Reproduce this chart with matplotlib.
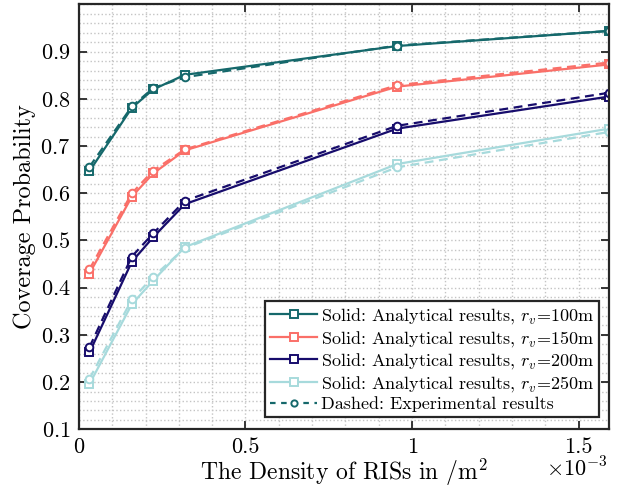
import matplotlib
matplotlib.use("Agg")
import matplotlib.pyplot as plt
from matplotlib.ticker import FuncFormatter, MultipleLocator
from matplotlib.lines import Line2D

plt.rcParams["font.family"] = "serif"
plt.rcParams["font.serif"] = ["cmr10"]
plt.rcParams["mathtext.fontset"] = "cm"
plt.rcParams["axes.formatter.use_mathtext"] = True

# RIS density (per m^2)
density = [3.18e-5, 1.59e-4, 2.23e-4, 3.18e-4, 9.55e-4, 1.5915e-3]

radii = ["100", "150", "200", "250"]
colors = ["#15686B", "#FA6F68", "#170C6C", "#A7DADC"]

# solid: analytical, dashed: experimental
analytical = [
    [0.647, 0.781, 0.820, 0.851, 0.912, 0.944],
    [0.430, 0.593, 0.642, 0.691, 0.826, 0.873],
    [0.263, 0.455, 0.507, 0.577, 0.737, 0.805],
    [0.196, 0.365, 0.415, 0.486, 0.662, 0.737],
]
experimental = [
    [0.656, 0.784, 0.823, 0.846, 0.913, 0.944],
    [0.439, 0.600, 0.648, 0.693, 0.829, 0.877],
    [0.274, 0.466, 0.515, 0.584, 0.743, 0.813],
    [0.207, 0.375, 0.423, 0.484, 0.655, 0.730],
]

fig = plt.figure(figsize=(6.21, 4.93), dpi=100)
ax = fig.add_axes([0.127, 0.1292, 0.854, 0.8617])

handles = []
for r, c, ya, ye in zip(radii, colors, analytical, experimental):
    h, = ax.plot(density, ya, "-", color=c, lw=1.6, marker="s", ms=5.5,
                 mfc="white", mec=c, mew=1.4,
                 label=r"Solid: Analytical results, $r_v$=" + r + "m")
    ax.plot(density, ye, "--", color=c, lw=1.6, dashes=(4, 2.5), marker="o", ms=5.5,
            mfc="white", mec=c, mew=1.4)
    handles.append(h)

handles.append(Line2D([], [], color=colors[0], lw=1.6, ls="--", dashes=(2.5, 2.5),
                      marker="o", ms=4.5, mfc="white", mec=colors[0], mew=1.4,
                      label="Dashed: Experimental results"))

ax.set_xlim(0, 1.5915e-3)
ax.set_ylim(0.1, 1.0)
ax.set_xticks([0, 0.5e-3, 1.0e-3, 1.5e-3])
ax.set_yticks([0.1, 0.2, 0.3, 0.4, 0.5, 0.6, 0.7, 0.8, 0.9])
ax.xaxis.set_major_formatter(FuncFormatter(lambda v, p: f"{v * 1e3:g}"))
ax.xaxis.set_minor_locator(MultipleLocator(0.1e-3))
ax.yaxis.set_minor_locator(MultipleLocator(0.02))

ax.grid(which="both", ls=":", color="#c4c4c4", lw=1.0)
ax.set_axisbelow(True)
ax.tick_params(which="major", direction="in", length=6, width=1.3, top=True, right=True,
               labelsize=16, pad=6, color="#262626")
ax.tick_params(which="minor", length=0)
for s in ax.spines.values():
    s.set_linewidth(1.6)
    s.set_color("#262626")

ax.set_ylabel("Coverage Probability", fontsize=17.5, labelpad=3)
ax.set_xlabel(r"The Density of RISs in $/\mathrm{m}^2$", fontsize=17, labelpad=-0.5)
ax.text(0.9975, -0.11, r"$\times10^{-3}$", transform=ax.transAxes, ha="right",
        va="baseline", fontsize=16)

leg = ax.legend(handles=handles, loc="lower right", bbox_to_anchor=(0.9806, 0.0282),
                borderaxespad=0, fontsize=13, fancybox=False, framealpha=1,
                edgecolor="#262626", handlelength=2.6, handletextpad=0.2,
                labelspacing=0.14, borderpad=0.3, numpoints=1)
leg.get_frame().set_linewidth(1.6)

fig.savefig("out.png", dpi=100)
